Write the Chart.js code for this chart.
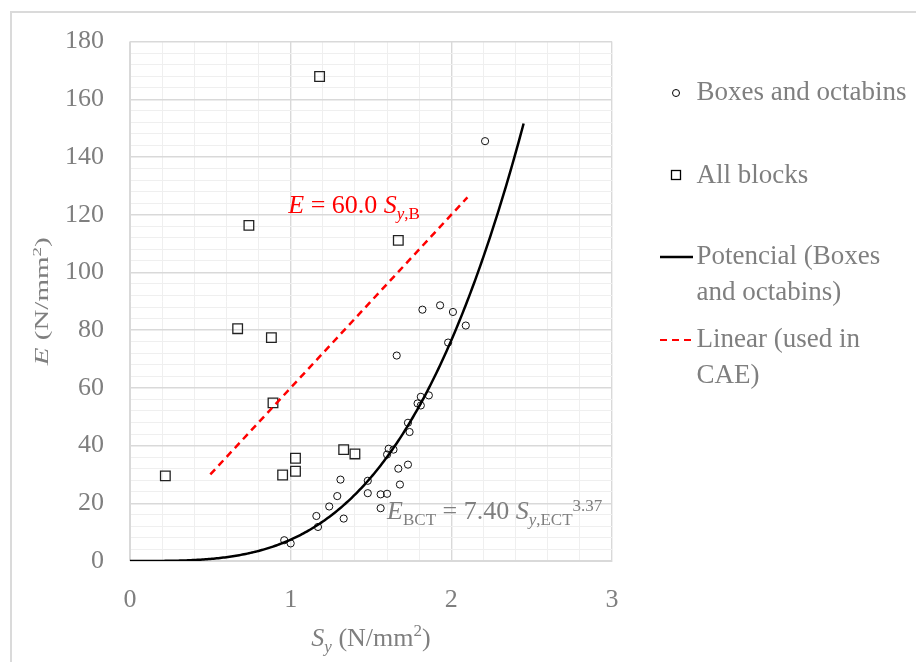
<!DOCTYPE html>
<html>
<head>
<meta charset="utf-8">
<script src="https://cdn.jsdelivr.net/npm/chart.js@4/dist/chart.umd.min.js"></script>
<style>
  html, body { margin: 0; padding: 0; background: #fff; overflow: hidden; }
  #frame { position: absolute; left: 10px; top: 11px; width: 1000px; height: 1000px;
           border-left: 2px solid #dadada; border-top: 2px solid #dadada; }
  #wrap { position: absolute; left: 0; top: 0; width: 916px; height: 662px; }
</style>
</head>
<body>
<div id="frame"></div>
<div id="wrap"><canvas id="c" width="916" height="662"></canvas></div>
<script>
// Boxes and octabins: yield stress S_y (N/mm2) and modulus E (N/mm2)
const boxesSy = [2.21, 1.82, 1.93, 2.01, 2.09, 1.98, 1.66, 1.81, 1.86, 1.79, 1.81, 1.73,
                 1.74, 1.61, 1.64, 1.60, 1.67, 1.73, 1.31, 1.48, 1.29, 1.48, 1.56, 1.60,
                 1.68, 1.24, 1.16, 1.33, 1.56, 1.17, 0.96, 1.00];
const boxesE  = [145.5, 87.1, 88.6, 86.3, 81.6, 75.7, 71.2, 56.9, 57.4, 54.6, 53.9, 47.9,
                 44.7, 38.9, 38.6, 36.9, 32.0, 33.4, 28.2, 27.8, 22.5, 23.5, 23.1, 23.3,
                 26.5, 18.9, 15.6, 14.7, 18.3, 11.8, 7.2, 6.1];

// All blocks
const blocksSy = [1.18, 0.74, 1.67, 0.67, 0.88, 0.89, 0.22, 0.95, 1.03, 1.03, 1.33, 1.40];
const blocksE  = [167.9, 116.3, 111.1, 80.5, 77.4, 54.8, 29.5, 29.8, 35.6, 31.1, 38.6, 37.1];

// Power trend E_BCT = 7.40 * S_y^3.37, drawn over its fitted range
const powerCoef = 7.40;
const powerExp = 3.37;
const powerRange = [0, 2.45];

// Linear model used in CAE: E = 60.0 * S_y
const linearSlope = 60.0;
const linearRange = [0.5, 2.1];

// Axis ticks
const xMajorTicks = [0, 1, 2, 3];
const yMajorTicks = [0, 20, 40, 60, 80, 100, 120, 140, 160, 180];

const FONT = '"Liberation Serif", "DejaVu Serif", serif';
const GREY = '#7f7f7f';

const boxesPts = boxesSy.map((x, i) => ({ x, y: boxesE[i] }));
const blocksPts = blocksSy.map((x, i) => ({ x, y: blocksE[i] }));
const powerPts = [];
for (let k = 0; k <= 245; k++) {
  const x = powerRange[0] + (powerRange[1] - powerRange[0]) * k / 245;
  powerPts.push({ x, y: powerCoef * Math.pow(x, powerExp) });
}
const linearPts = linearRange.map(x => ({ x, y: linearSlope * x }));

function isMajor(v, list) { return list.some(m => Math.abs(m - v) < 1e-6); }

// Draw a run of text pieces (italic, sub/superscript) starting at x, baseline y
function runsWidth(ctx, runs) {
  let w = 0;
  for (const r of runs) {
    ctx.font = (r.i ? 'italic ' : '') + r.s + 'px ' + FONT;
    w += ctx.measureText(r.t).width;
  }
  return w;
}
function drawRuns(ctx, x, y, runs, color) {
  ctx.fillStyle = color;
  ctx.textAlign = 'left';
  ctx.textBaseline = 'alphabetic';
  let cx = x;
  for (const r of runs) {
    ctx.font = (r.i ? 'italic ' : '') + r.s + 'px ' + FONT;
    ctx.fillText(r.t, cx, y + (r.dy || 0));
    cx += ctx.measureText(r.t).width;
  }
}

const decorations = {
  id: 'decorations',
  afterDatasetsDraw(chart) {
    const ctx = chart.ctx;
    const xs = chart.scales.x, ys = chart.scales.y;
    const area = chart.chartArea;
    ctx.save();

    // Equation labels
    drawRuns(ctx, xs.getPixelForValue(0.985), ys.getPixelForValue(120.5), [
      { t: 'E', s: 26, i: true }, { t: ' = 60.0 ', s: 26 }, { t: 'S', s: 26, i: true },
      { t: 'y', s: 17, i: true, dy: 6 }, { t: ',B', s: 17, dy: 6 }
    ], '#ff0000');
    drawRuns(ctx, xs.getPixelForValue(1.6), ys.getPixelForValue(14.7), [
      { t: 'E', s: 26, i: true }, { t: 'BCT', s: 17, dy: 6 }, { t: ' = 7.40 ', s: 26 },
      { t: 'S', s: 26, i: true }, { t: 'y', s: 17, i: true, dy: 6 }, { t: ',ECT', s: 17, dy: 6 },
      { t: '3.37', s: 17, dy: -8 }
    ], GREY);

    // X axis title
    const xt = [
      { t: 'S', s: 26, i: true }, { t: 'y', s: 17, i: true, dy: 6 }, { t: ' (N/mm', s: 26 },
      { t: '2', s: 17, dy: -10 }, { t: ')', s: 26 }
    ];
    const xw = runsWidth(ctx, xt);
    drawRuns(ctx, (area.left + area.right) / 2 - xw / 2, 646, xt, GREY);

    // Y axis title
    const yt = [
      { t: 'E', s: 29, i: true }, { t: ' (N/mm', s: 29 }, { t: '2', s: 19, dy: -11 }, { t: ')', s: 29 }
    ];
    const yw = runsWidth(ctx, yt);
    ctx.save();
    ctx.translate(48, (area.top + area.bottom) / 2);
    ctx.rotate(-Math.PI / 2);
    ctx.scale(1, 0.65);
    drawRuns(ctx, -yw / 2, 0, yt, GREY);
    ctx.restore();

    // Legend
    const lx = 696.5;
    const ls = 27;
    ctx.strokeStyle = '#000';
    ctx.lineWidth = 1;
    ctx.beginPath(); ctx.arc(676, 93, 3.5, 0, Math.PI * 2); ctx.stroke();
    drawRuns(ctx, lx, 100, [{ t: 'Boxes and octabins', s: ls }], GREY);

    ctx.lineWidth = 1.3;
    ctx.strokeRect(671.5, 170.5, 9, 9);
    drawRuns(ctx, lx, 183, [{ t: 'All blocks', s: ls }], GREY);

    ctx.lineWidth = 2.5;
    ctx.beginPath(); ctx.moveTo(660, 257); ctx.lineTo(693, 257); ctx.stroke();
    drawRuns(ctx, lx, 264, [{ t: 'Potencial (Boxes', s: ls }], GREY);
    drawRuns(ctx, lx, 300, [{ t: 'and octabins)', s: ls }], GREY);

    ctx.strokeStyle = '#ff0000';
    ctx.lineWidth = 2;
    ctx.setLineDash([7, 5]);
    ctx.beginPath(); ctx.moveTo(660, 340); ctx.lineTo(695, 340); ctx.stroke();
    ctx.setLineDash([]);
    drawRuns(ctx, lx, 347, [{ t: 'Linear (used in', s: ls }], GREY);
    drawRuns(ctx, lx, 383, [{ t: 'CAE)', s: ls }], GREY);

    ctx.restore();
  }
};

new Chart(document.getElementById('c'), {
  type: 'scatter',
  data: {
    datasets: [
      {
        label: 'Potencial (Boxes and octabins)',
        data: powerPts, showLine: true, borderColor: '#000', borderWidth: 2.5,
        pointRadius: 0, tension: 0, fill: false, order: 1
      },
      {
        label: 'Linear (used in CAE)',
        data: linearPts, showLine: true, borderColor: '#ff0000', borderWidth: 2.5,
        borderDash: [7, 5], pointRadius: 0, fill: false, order: 1
      },
      {
        label: 'Boxes and octabins',
        data: boxesPts, pointStyle: 'circle', pointRadius: 3.6, borderWidth: 1,
        borderColor: '#111', backgroundColor: 'rgba(0,0,0,0)', order: 2
      },
      {
        label: 'All blocks',
        data: blocksPts, pointStyle: 'rect', pointRadius: 6.8, borderWidth: 1.3,
        borderColor: '#222', backgroundColor: 'rgba(0,0,0,0)', order: 2
      }
    ]
  },
  options: {
    responsive: false,
    animation: false,
    events: [],
    layout: { padding: { left: 0, top: 37, right: 304, bottom: 0 } },
    plugins: { legend: { display: false }, tooltip: { enabled: false } },
    scales: {
      x: {
        type: 'linear', min: 0, max: 3,
        afterFit: s => { s.height = 101; },
        border: { display: true, color: '#d9d9d9', width: 1 },
        grid: {
          drawTicks: false,
          color: c => isMajor(c.tick.value, xMajorTicks) ? '#d9d9d9' : '#efefef',
          lineWidth: c => isMajor(c.tick.value, xMajorTicks) ? 1.4 : 1
        },
        ticks: {
          stepSize: 0.2, autoSkip: false, maxRotation: 0, padding: 24,
          color: GREY, font: { family: FONT, size: 26 },
          callback: v => isMajor(v, xMajorTicks) ? String(Math.round(v)) : ''
        }
      },
      y: {
        type: 'linear', min: 0, max: 180,
        afterFit: s => { s.width = 130; },
        border: { display: true, color: '#d9d9d9', width: 1 },
        grid: {
          drawTicks: false,
          color: c => isMajor(c.tick.value, yMajorTicks) ? '#d9d9d9' : '#efefef',
          lineWidth: c => isMajor(c.tick.value, yMajorTicks) ? 1.4 : 1
        },
        ticks: {
          stepSize: 4, autoSkip: false, padding: 26,
          color: GREY, font: { family: FONT, size: 26 },
          callback: v => isMajor(v, yMajorTicks) ? String(v) : ''
        }
      }
    }
  },
  plugins: [decorations]
});
</script>
</body>
</html>
